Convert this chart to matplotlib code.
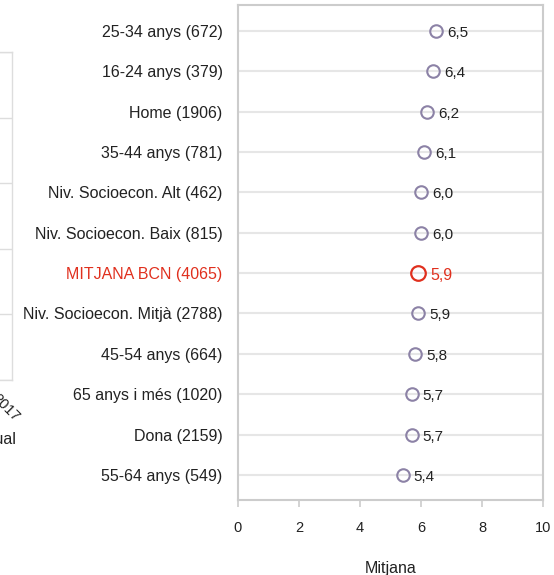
import numpy as np
import matplotlib.pyplot as plt

plt.rcParams['font.family'] = ['Liberation Sans', 'DejaVu Sans']

# data
labels = ["25-34 anys (672)", "16-24 anys (379)", "Home (1906)",
          "35-44 anys (781)", "Niv. Socioecon. Alt (462)",
          "Niv. Socioecon. Baix (815)", "MITJANA BCN (4065)",
          "Niv. Socioecon. Mitjà (2788)", "45-54 anys (664)",
          "65 anys i més (1020)", "Dona (2159)", "55-64 anys (549)"]
values = [6.5, 6.4, 6.2, 6.1, 6.0, 6.0, 5.9, 5.9, 5.8, 5.7, 5.7, 5.4]
highlight = "MITJANA BCN (4065)"
xticks = [0, 2, 4, 6, 8, 10]

W, H = 554, 575
grey = '#cccccc'
purple = '#8c82a6'
red = '#e0301e'
txt = '#222222'

fig = plt.figure(figsize=(W / 100, H / 100), dpi=100)

# main dot chart
ax = fig.add_axes([238 / W, 1 - 500 / H, (543 - 238) / W, 495 / H])
ypos = np.arange(len(labels))
for y, lab, v in zip(ypos, labels, values):
    ax.axhline(y, color='#e6e6e6', lw=1.5, zorder=0)
    lbl = f"{v:.1f}".replace('.', ',')
    if lab == highlight:
        ax.plot(v, y, 'o', ms=10.5, mfc='none', mec=red, mew=1.6, zorder=3)
        ax.text(v + 0.4, y + 0.05, lbl, color=red,
                va='center', ha='left', fontsize=11.5)
    else:
        ax.plot(v, y, 'o', ms=9, mfc='none', mec=purple, mew=1.5, zorder=3)
        ax.text(v + 0.36, y + 0.05, lbl, color=txt,
                va='center', ha='left', fontsize=11)

ax.set_xlim(0, 10)
ax.set_ylim(len(labels) - 1 + 0.62, -0.64)
ax.set_yticks(ypos)
ax.set_yticklabels(labels, fontsize=11.5)
for t in ax.get_yticklabels():
    if t.get_text() == highlight:
        t.set_color(red)
    else:
        t.set_color(txt)
ax.tick_params(axis='y', length=0, pad=11)
ax.set_xticks(xticks)
ax.set_xticklabels([str(x) for x in xticks], fontsize=10.5, color=txt)
ax.tick_params(axis='x', length=5, width=1.2, color=grey, pad=10)
ax.set_xlabel("Mitjana", fontsize=11.5, color=txt, labelpad=19)
for s in ax.spines.values():
    s.set_color(grey)
    s.set_linewidth(1.5)

# cut-off neighbour chart on the left
ax2 = fig.add_axes([-0.3, 1 - 380 / H, 0.3 + 12 / W, (380 - 52) / H])
ax2.set_xlim(0, 1)
ax2.set_ylim(0, 5)
ax2.set_yticks(range(6))
ax2.set_xticks([])
ax2.grid(axis='y', color='#dddddd', lw=1)
ax2.tick_params(length=0, labelleft=False)
for s in ax2.spines.values():
    s.set_color('#dddddd')
    s.set_linewidth(1)
fig.text(17 / W, 1 - 419 / H, "2017", rotation=-45, rotation_mode='anchor',
         ha='right', va='center', fontsize=10.5, color=txt)
fig.text(17 / W, 1 - 440 / H, "Anual", ha='right', va='center',
         fontsize=11.5, color=txt)

fig.savefig('out.png', dpi=100)
